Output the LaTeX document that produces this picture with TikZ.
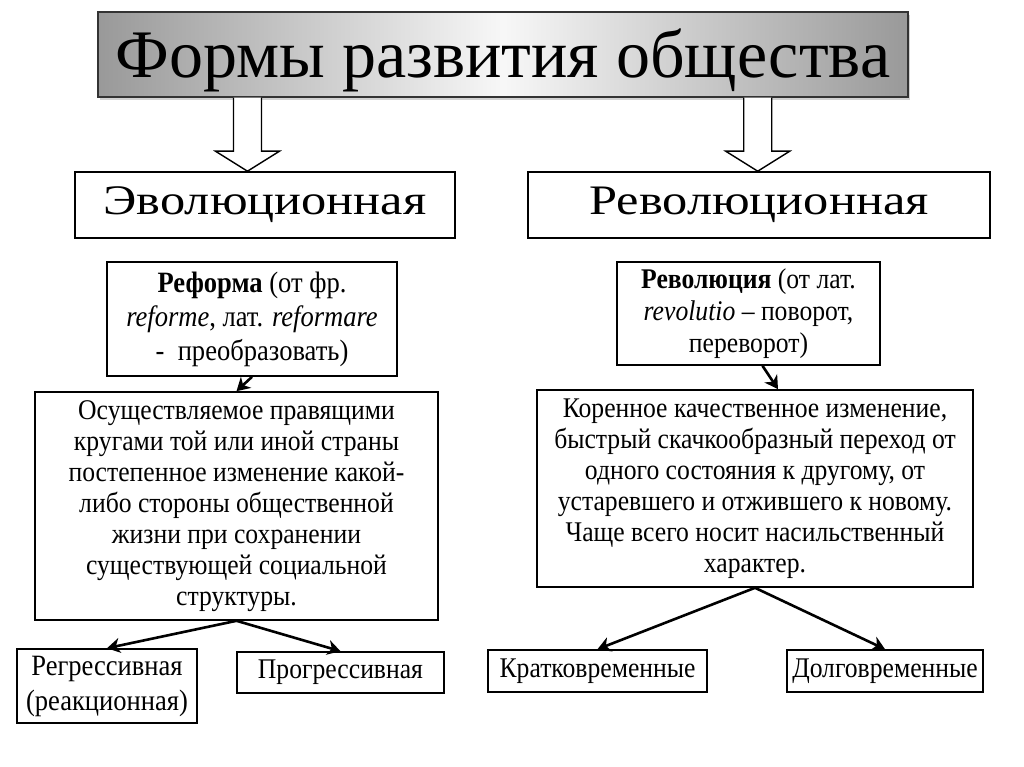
\documentclass[tikz,border=0pt]{standalone}
\usepackage{fontspec}
\setmainfont{Liberation Serif}
\newfontfamily\narrowrm{Liberation Serif}[FakeStretch=0.9]
\newfontfamily\widerm{Liberation Serif}[FakeStretch=1.2]
\usetikzlibrary{arrows.meta,calc,shadows}

% hollow block arrow from #1 (top) down to the top of node #2
\newcommand{\blockarrow}[2]{%
  \draw[line width=1.4pt,fill=white] let \p1=(#1), \p2=(#2.north) in
    (\x1-14,\y1) -- (\x1-14,\y2+20) -- (\x1-32,\y2+20) -- (\x1,\y2)
    -- (\x1+32,\y2+20) -- (\x1+14,\y2+20) -- (\x1+14,\y1);}

\begin{document}
\begin{tikzpicture}[x=1pt,y=-1pt,
  box/.style={draw,line width=1.6pt,inner sep=0pt,align=center,fill=white},
  txt/.style={font=\narrowrm\fontsize{28.5}{31}\selectfont},
  leaf/.style={font=\narrowrm\fontsize{28.5}{31}\selectfont},
  head/.style={font=\widerm\fontsize{42}{46}\selectfont},
  conn/.style={line width=2.6pt,-{Stealth[length=13pt,width=15pt,inset=4pt]}}]
  \useasboundingbox[fill=white] (0,0) rectangle (1024,767);

  \node[draw=black!80,line width=1.2pt,inner sep=0pt,minimum width=810,minimum height=85,
        text height=50pt,text depth=3pt,
        left color=black!40,right color=black!40,middle color=black!3,
        drop shadow={opacity=0.35,shadow xshift=2pt,shadow yshift=-3pt},
        font=\fontsize{68}{70}\selectfont] (title) at (503,54.5) {Формы развития общества};

  \node[box,head,minimum width=380,minimum height=66] (evo) at (265,205) {Эволюционная};
  \node[box,head,minimum width=462,minimum height=66] (rev) at (759,205) {Революционная};

  \node[box,minimum width=290,minimum height=114,font=\narrowrm\fontsize{29.5}{34}\selectfont] (reform) at (252,319)
    {\textbf{Реформа} (от фр.\\ \textit{reforme}, лат. \textit{reformare}\\ -\ \ преобразовать)};
  \node[box,minimum width=263,minimum height=103,font=\narrowrm\fontsize{28.5}{32}\selectfont] (revdef) at (748.5,313.5)
    {\textbf{Революция} (от лат.\\ \textit{revolutio} – поворот,\\ переворот)};

  \node[box,txt,minimum width=403,minimum height=228] (evodesc) at (236.5,506)
    {Осуществляемое правящими\\ кругами той или иной страны\\ постепенное изменение какой-\\
     либо стороны общественной\\ жизни при сохранении\\ существующей социальной\\ структуры.};
  \node[box,txt,minimum width=436,minimum height=197] (revdesc) at (755,488.5)
    {Коренное качественное изменение,\\ быстрый скачкообразный переход от\\ одного состояния к другому, от\\
     устаревшего и отжившего к новому.\\ Чаще всего носит насильственный\\ характер.};

  \node[box,leaf,minimum width=180,minimum height=74,font=\narrowrm\fontsize{29.5}{35}\selectfont] (regr) at (107,686) {Регрессивная\\ (реакционная)};
  \node[box,leaf,minimum width=207,minimum height=41] (prog) at (340.5,672.5) {Прогрессивная};
  \node[box,leaf,minimum width=219,minimum height=42] (krat) at (597.5,671) {Кратковременные};
  \node[box,leaf,minimum width=196,minimum height=42] (dolg) at (885,671) {Долговременные};

  \blockarrow{$(title.south west)!0.185!(title.south east)$}{evo}
  \blockarrow{$(title.south west)!0.814!(title.south east)$}{rev}

  \draw[conn] (reform.south) -- (evodesc.north);
  \draw[conn] ($(revdef.south)+(14,0)$) -- ($(revdesc.north)+(23,0)$);
  \draw[conn] (evodesc.south) -- (regr.north);
  \draw[conn] (evodesc.south) -- (prog.north);
  \draw[conn] (revdesc.south) -- (krat.north);
  \draw[conn] (revdesc.south) -- (dolg.north);
\end{tikzpicture}
\end{document}
